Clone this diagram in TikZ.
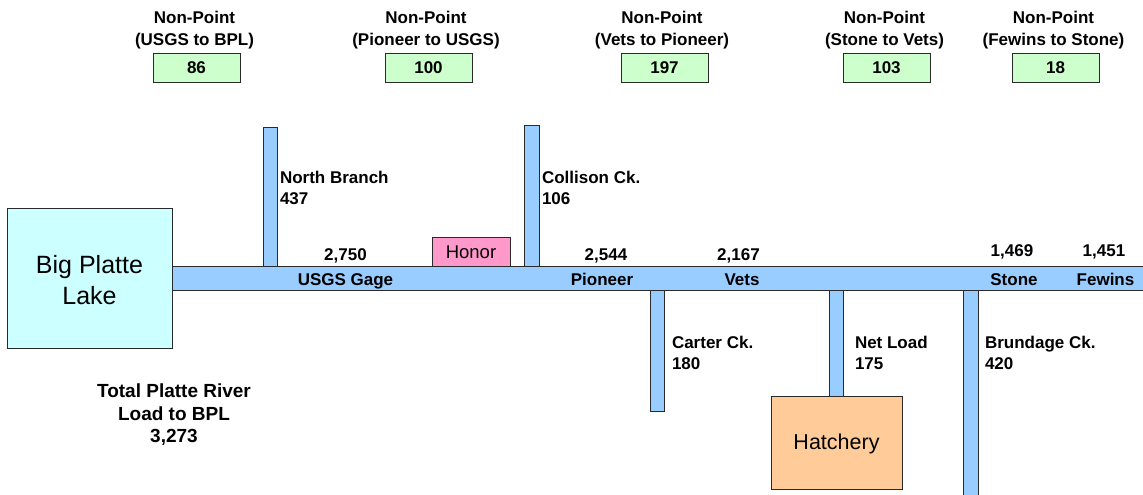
\documentclass[tikz,border=0pt]{standalone}
\usepackage{fontspec}
\setmainfont{Liberation Sans}
\definecolor{riverblue}{HTML}{99CCFF}
\definecolor{lakecyan}{HTML}{CCFFFF}
\definecolor{npgreen}{HTML}{CCFFCC}
\definecolor{honorpink}{HTML}{FF99CC}
\definecolor{hatchorange}{HTML}{FFCC99}
\definecolor{edgegray}{HTML}{2A2A2A}
\begin{document}
\begin{tikzpicture}[x=1pt,y=-1pt,
  outline/.style={draw=edgegray, line width=0.9pt, inner sep=0pt, outer sep=0pt, anchor=north west},
  bar/.style={outline, fill=riverblue},
  npbox/.style={outline, fill=npgreen, minimum width=87pt, minimum height=29pt},
  bl/.style={font=\bfseries\fontsize{17}{21}\selectfont, inner sep=0pt, outer sep=0pt},
  toplbl/.style={bl, align=center, anchor=north, font=\bfseries\fontsize{17}{22}\selectfont},
  sidelbl/.style={bl, align=left, anchor=north west},
  ctrlbl/.style={bl, anchor=base}]
\clip (0,0) rectangle (1143,495);
\fill[white] (0,0) rectangle (1143,495);

% lake
\node[outline, fill=lakecyan, minimum width=165pt, minimum height=140pt] (lake) at (7,208) {};
\node[inner sep=0pt, align=center, font=\fontsize{25}{31}\selectfont] (laketext) at ([yshift=-2.5pt]lake.center) {Big Platte\\Lake};

% tributaries
\node[bar, minimum width=14pt, minimum height=140pt] (nb) at (263,127) {};
\node[bar, minimum width=15pt, minimum height=142pt] (col) at (524,125) {};
\node[bar, minimum width=14pt, minimum height=121pt] (carter) at (650,290) {};
\node[bar, minimum width=14pt, minimum height=106pt] (net) at (829,290) {};
\node[bar, minimum width=15pt, minimum height=215pt] (brund) at (963,290) {};

% river
\node[bar, minimum width=990pt, minimum height=24pt] (river) at (172,266) {};

% honor and hatchery
\node[outline, fill=honorpink, minimum width=78pt, minimum height=29pt] (honor) at (432,237) {};
\node[inner sep=0pt, font=\fontsize{18.5}{22}\selectfont] (honortext) at ([yshift=-1pt]honor.center) {Honor};
\node[outline, fill=hatchorange, minimum width=131pt, minimum height=93pt] (hatch) at (771,396) {};
\node[inner sep=0pt, font=\fontsize{21.5}{26}\selectfont] (hatchtext) at ([yshift=-1pt]hatch.center) {Hatchery};

% non-point boxes
\node[npbox] (np1) at (153,53) {};
\node[npbox] (np2) at (385,53) {};
\node[npbox] (np3) at (621,53) {};
\node[npbox] (np4) at (843,53) {};
\node[npbox] (np5) at (1012,53) {};
\node[ctrlbl] (v1) at ([yshift=-6pt]np1.center) {86};
\node[ctrlbl] (v2) at ([yshift=-6pt]np2.center) {100};
\node[ctrlbl] (v3) at ([yshift=-6pt]np3.center) {197};
\node[ctrlbl] (v4) at ([yshift=-6pt]np4.center) {103};
\node[ctrlbl] (v5) at ([yshift=-6pt]np5.center) {18};
\node[toplbl] (t1) at (194.5,10.9) {Non-Point\\(USGS to BPL)};
\node[toplbl] (t2) at (426,10.9) {Non-Point\\(Pioneer to USGS)};
\node[toplbl] (t3) at (662,10.9) {Non-Point\\(Vets to Pioneer)};
\node[toplbl] (t4) at (884.5,10.9) {Non-Point\\(Stone to Vets)};
\node[toplbl] (t5) at (1053.5,10.9) {Non-Point\\(Fewins to Stone)};

% tributary labels
\node[sidelbl] (lnb) at (280,170.9) {North Branch\\437};
\node[sidelbl] (lcol) at (542,170.9) {Collison Ck.\\106};
\node[sidelbl] (lcarter) at (672,335.9) {Carter Ck.\\180};
\node[sidelbl] (lnet) at (855,335.9) {Net Load\\175};
\node[sidelbl] (lbrund) at (985,335.9) {Brundage Ck.\\420};

% river station labels
\node[ctrlbl] (s1v) at (345.5,260) {2,750};
\node[ctrlbl] (s1) at (345.5,285) {USGS Gage};
\node[ctrlbl] (s2v) at (606,260) {2,544};
\node[ctrlbl] (s2) at (602,285) {Pioneer};
\node[ctrlbl] (s3v) at (738.5,260) {2,167};
\node[ctrlbl] (s3) at (742,285) {Vets};
\node[ctrlbl] (s4v) at (1012,256.5) {1,469};
\node[ctrlbl] (s4) at (1014,285) {Stone};
\node[ctrlbl] (s5v) at (1104,256.5) {1,451};
\node[ctrlbl] (s5) at (1105.5,285) {Fewins};

% total
\node[bl, align=center, anchor=north, font=\bfseries\fontsize{19}{22.5}\selectfont] (total) at (174,384.2) {Total Platte River\\Load to BPL\\3,273};
\end{tikzpicture}
\end{document}
